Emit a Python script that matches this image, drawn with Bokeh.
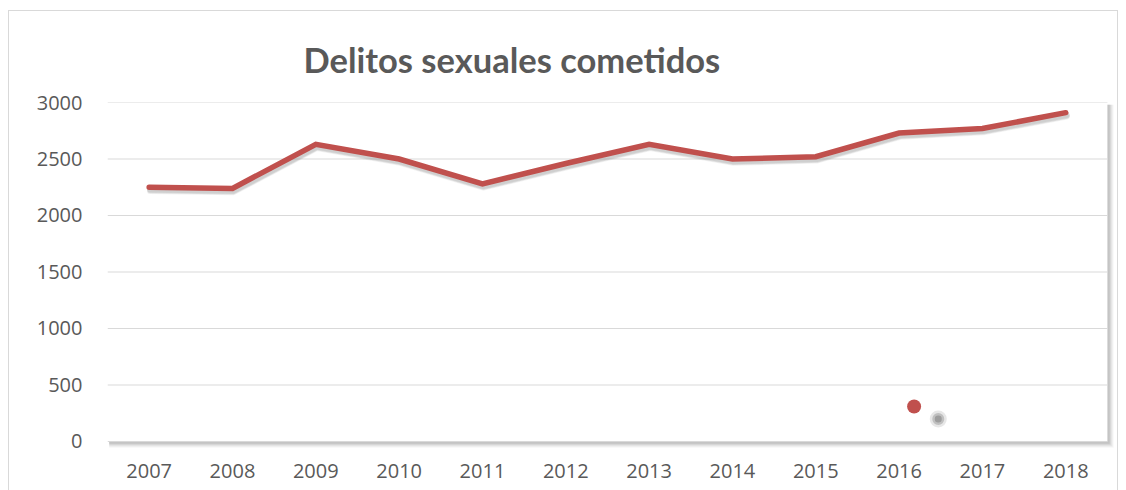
from bokeh.plotting import figure
from bokeh.models import FixedTicker, Title
from bokeh.embed import file_html
from bokeh.resources import INLINE

years = [2007, 2008, 2009, 2010, 2011, 2012, 2013, 2014, 2015, 2016, 2017, 2018]
delitos = [2250, 2240, 2630, 2500, 2280, 2460, 2630, 2500, 2520, 2730, 2770, 2910]
y_ticks = [0, 500, 1000, 1500, 2000, 2500, 3000]
# stray marker (legend-like dot) seen in the reference
dot_x = [2016.18]
dot_y = [310]
dot_shadow_x = [2016.47]
dot_shadow_y = [200]

title_text = "Delitos sexuales cometidos"
red = "#C0504D"
grey_text = "#595959"

x0, x1 = 2006.5, 2018.5
p = figure(width=1108, height=479, output_backend="svg", toolbar_location=None,
           x_range=(x0, 2018.585), y_range=(-62, 3000),
           min_border_left=98, min_border_right=5, min_border_top=91, min_border_bottom=43)
p.styles = {"margin-left": "8px", "margin-top": "10px",
            "border-top": "1px solid #d9d9d9", "border-left": "1px solid #d9d9d9",
            "border-right": "1px solid #d9d9d9", "box-sizing": "content-box"}
p.outline_line_color = None
p.background_fill_color = "white"
p.border_fill_color = "white"
p.xgrid.visible = False
p.ygrid.visible = False

# plot-area shadow (soft, several layers)
for i, a in enumerate([0.06, 0.08, 0.10, 0.14, 0.18]):
    dx = 0.075 - i * 0.012
    dy = 55 - i * 9
    p.quad(left=[x0 + 0.02], right=[x1 + dx], top=[3000 - 20], bottom=[0 - dy],
           fill_color="#7f7f7f", fill_alpha=a, line_color=None)
p.quad(left=[x0], right=[x1], top=[3000], bottom=[0], fill_color="white", line_color=None)

# gridlines limited to the plot area
p.segment(x0=[x0] * len(y_ticks), x1=[x1] * len(y_ticks), y0=y_ticks, y1=y_ticks,
          line_color="#d9d9d9", line_width=1.2)

# line shadow
for off, a in [(34, 0.10), (27, 0.18), (20, 0.14)]:
    p.line([x + 0.012 for x in years], [v - off for v in delitos], line_color="#808080",
           line_alpha=a, line_width=6, line_join="round", line_cap="round")
p.line(years, delitos, line_color=red, line_width=5.5, line_join="miter", line_cap="round")

# dot and its blurred shadow
p.scatter(dot_shadow_x, dot_shadow_y, size=17, fill_color="#a0a0a0", fill_alpha=0.25, line_color=None)
p.scatter(dot_shadow_x, dot_shadow_y, size=12, fill_color="#909090", fill_alpha=0.45, line_color=None)
p.scatter(dot_shadow_x, dot_shadow_y, size=7, fill_color="#858585", fill_alpha=0.6, line_color=None)
p.scatter(dot_x, dot_y, size=14, fill_color=red, line_color=None)

p.title = Title(text=title_text, align="left", offset=196, standoff=46,
                text_font="Lato", text_font_size="34.5px", text_font_style="bold",
                text_color=grey_text)

p.xaxis.ticker = FixedTicker(ticks=years)
p.yaxis.ticker = FixedTicker(ticks=y_ticks)
for ax in (p.xaxis, p.yaxis):
    ax.axis_line_color = None
    ax.major_tick_line_color = None
    ax.minor_tick_line_color = None
    ax.major_label_text_font = "Open Sans"
    ax.major_label_text_font_size = "20px"
    ax.major_label_text_color = grey_text
p.yaxis.major_label_standoff = 19
p.xaxis.major_label_standoff = 9

open("out.html", "w").write(file_html(p, INLINE))
